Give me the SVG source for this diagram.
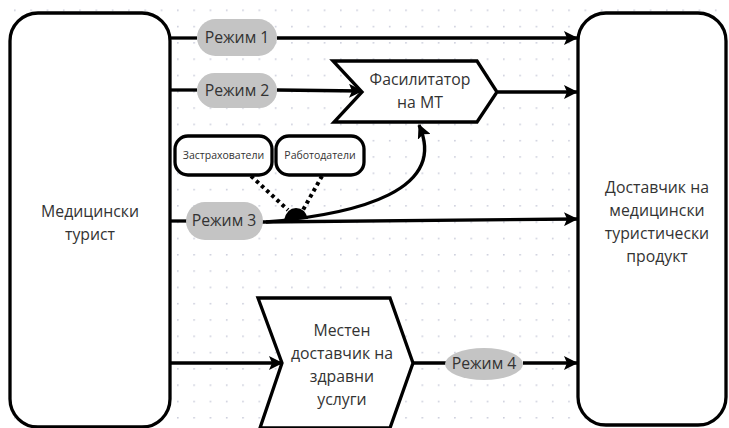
<svg xmlns="http://www.w3.org/2000/svg" width="729" height="428" viewBox="0 0 729 428">
<defs>
<pattern id="grid" x="14" y="9.5" width="16.3" height="16.3" patternUnits="userSpaceOnUse">
<circle cx="0.8" cy="0.8" r="0.9" fill="#c8cbd9"/>
</pattern>
<marker id="ah" viewBox="0 0 14 14" refX="13" refY="7" markerWidth="14" markerHeight="14" markerUnits="userSpaceOnUse" orient="auto">
<path d="M0,0 L14,7 L0,14 L3,7 Z" fill="#000"/>
</marker>
<style>
.box{fill:#fff;stroke:#000;stroke-width:3.3}
.pill{fill:#c4c4c4;stroke:none}
.t{font-family:"Open Sans","Noto Sans","DejaVu Sans",sans-serif;font-size:15.8px;fill:#333;text-anchor:middle}
.ts{font-family:"Open Sans","Noto Sans","DejaVu Sans",sans-serif;font-size:10.5px;fill:#333;text-anchor:middle}
.e{fill:none;stroke:#000;stroke-width:3.3}
.d{fill:none;stroke:#000;stroke-width:4;stroke-dasharray:3.5 3.5}
</style>
</defs>
<rect width="729" height="428" fill="#fff"/>
<rect width="729" height="428" fill="url(#grid)"/>

<g id="connectors">
<line class="e" x1="170" y1="38" x2="197" y2="38"/>
<line class="e" x1="277" y1="38" x2="577" y2="38" marker-end="url(#ah)"/>
<line class="e" x1="170" y1="90" x2="197" y2="90"/>
<line class="e" x1="277" y1="90" x2="362" y2="91" marker-end="url(#ah)"/>
<line class="e" x1="498" y1="92" x2="577" y2="92" marker-end="url(#ah)"/>
<line class="e" x1="170" y1="221" x2="187" y2="221"/>
<line class="e" x1="262" y1="222" x2="577" y2="219" marker-end="url(#ah)"/>
<path class="e" d="M266,222 C360,214 448,190 419,125" marker-end="url(#ah)"/>
<line class="d" x1="251" y1="176" x2="288" y2="210"/>
<line class="d" x1="322" y1="176" x2="303" y2="210"/>
<path d="M284,220 Q287,208 296,208 Q305,208 308,219 Z" fill="#000"/>
<line class="e" x1="170" y1="363" x2="282" y2="363" marker-end="url(#ah)"/>
<line class="e" x1="413" y1="363" x2="446" y2="363"/>
<line class="e" x1="523" y1="363" x2="577" y2="363" marker-end="url(#ah)"/>
</g>

<g id="tourist">
<rect class="box" x="10" y="13" width="160" height="414" rx="28"/>
<text class="t" x="90" y="217">Медицински</text>
<text class="t" x="90" y="240">турист</text>
</g>

<g id="provider">
<rect class="box" x="578" y="13" width="148" height="412" rx="28"/>
<text class="t" x="657" y="193">Доставчик на</text>
<text class="t" x="657" y="216">медицински</text>
<text class="t" x="657" y="239">туристически</text>
<text class="t" x="657" y="262">продукт</text>
</g>

<g id="mode1">
<rect class="pill" x="197" y="19" width="80" height="37" rx="18.5"/>
<text class="t" x="237" y="43">Режим 1</text>
</g>
<g id="mode2">
<rect class="pill" x="197" y="73" width="80" height="35" rx="17.5"/>
<text class="t" x="237" y="96">Режим 2</text>
</g>

<g id="facilitator">
<polygon class="box" points="333,61 477,61 497,92 477,122 334,122 362,92"/>
<text class="t" x="420" y="85">Фасилитатор</text>
<text class="t" x="420" y="108">на МТ</text>
</g>

<g id="insurers">
<rect class="box" x="175" y="136" width="97" height="39" rx="13"/>
<text class="ts" x="223.5" y="159">Застрахователи</text>
</g>
<g id="employers">
<rect class="box" x="276" y="136" width="88" height="39" rx="13"/>
<text class="ts" x="320" y="159">Работодатели</text>
</g>

<g id="mode3">
<rect class="pill" x="186" y="202" width="77" height="38" rx="19"/>
<text class="t" x="224" y="226">Режим 3</text>
</g>

<g id="local">
<polygon class="box" points="258,298 390,298 413,363 390,428 260,428 282,363"/>
<text class="t" x="342" y="336">Местен</text>
<text class="t" x="342" y="359">доставчик на</text>
<text class="t" x="342" y="382">здравни</text>
<text class="t" x="342" y="405">услуги</text>
</g>

<g id="mode4">
<ellipse class="pill" cx="484" cy="364" rx="39" ry="16"/>
<text class="t" x="484" y="369">Режим 4</text>
</g>
</svg>
